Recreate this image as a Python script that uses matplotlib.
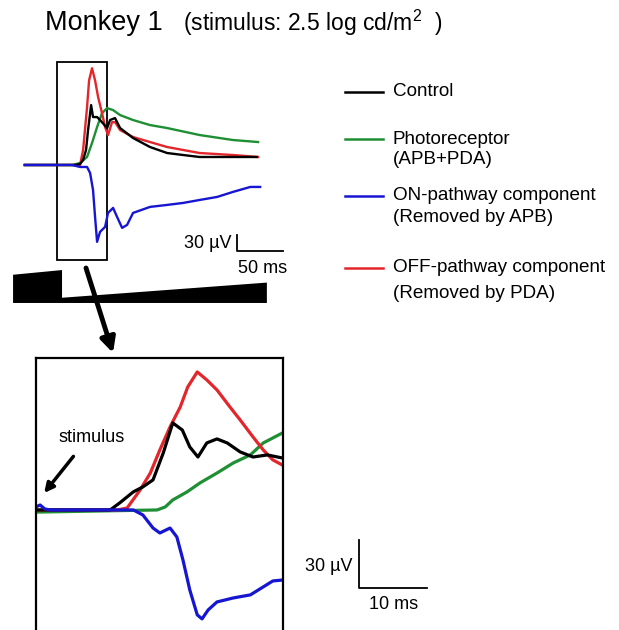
import matplotlib
matplotlib.use('Agg')
import matplotlib.pyplot as plt
from matplotlib.lines import Line2D
from matplotlib.patches import Rectangle

plt.rcParams['font.family'] = ['Liberation Sans', 'DejaVu Sans']
plt.rcParams['mathtext.fontset'] = 'custom'
plt.rcParams['mathtext.rm'] = 'Liberation Sans'
plt.rcParams['mathtext.it'] = 'Liberation Sans'

RED = '#e3262b'
GREEN = '#1f8f34'
BLUE = '#1616d2'
BLACK = 'black'

# ---- full recording (top), time in ms, voltage in uV ----
t_ctrl = [-35, 0, 19.6, 25, 28.3, 31.5, 33.7, 37.0, 39.1, 43.5, 46.7, 54.4, 57.6, 63.0, 68.5,
          82.6, 101, 119.6, 137, 155, 191, 217]
v_ctrl = [0, 0, 0, 1.9, 9.6, 28.7, 66.9, 114.6, 91.7, 91.7, 86, 70.7, 86, 89.8, 70.7,
          51.6, 34.4, 22.9, 19.1, 15.3, 15.3, 15.3]

t_off = [-35, 0, 25, 28.3, 32.6, 34.8, 38.0, 41.3, 44.6, 48.9, 52.2, 55.4, 59.8, 63.0, 68.5,
         82.6, 101, 119.6, 137, 155, 191, 218.5]
v_off = [0, 0, 0, 28.7, 110.8, 162, 185, 162, 130, 99, 72.6, 57.3, 82, 82, 66.9,
         53.5, 43.9, 34.4, 28.7, 22.9, 19.1, 15.3]

t_photo = [-35, 0, 16.3, 25, 32.6, 38.0, 43.5, 48.9, 54.4, 60.9, 68.5, 82.6, 101, 119.6,
           155, 191, 218.5]
v_photo = [0, 0, 0, 3.8, 15.3, 42, 72.6, 99.3, 108.9, 105, 95.5, 86, 76.4, 70.7,
           57.3, 47.8, 43.9]

t_on = [-35, 0, 16.3, 25, 32.6, 35.9, 39.1, 41.3, 43.5, 46.7, 52.2, 55.4, 60.9, 65.2, 70.7,
        76.1, 82.6, 101, 119.6, 137, 155, 174, 191, 210, 220.7]
v_on = [0, 0, 0, -3.8, -3.8, -15.3, -47.8, -99.3, -147, -128, -118.4, -91.7, -82.1, -99.3,
        -120.3, -114.6, -91.7, -80.2, -76.4, -72.6, -66.9, -61.1, -51.6, -42, -42]

# zoom window shown in the top panel
zoom_t = [0, 54.4]
zoom_v = [-181.5, 196.7]

# stimulus intensity trace under the top panel
stim_t = [-47.8, -47.8, 5.4, 5.4, 228, 228]
stim_v = [-264, -210, -201, -254, -225, -264]

# ---- zoomed segment (bottom), time in ms, voltage in uV ----
tb_ctrl = [0, 10.9, 12.3, 14.3, 15.7, 17.2, 18.7, 20.1, 21.5, 22.6, 23.8, 25.1, 26.6, 28.1,
           30.0, 31.9, 34.0, 36.2]
vb_ctrl = [0, 0, 4.4, 11.3, 14.4, 18.8, 35.6, 54.4, 50, 39.4, 33.1, 41.9, 44.4, 41.9,
           36.3, 33.1, 34.4, 32.5]

tb_off = [0, 12.0, 13.4, 15.3, 16.8, 18.2, 19.7, 21.2, 22.3, 23.7, 25.1, 26.6, 28.5, 30.0,
          31.9, 33.4, 34.8, 36.2]
vb_off = [0, 0, 1.25, 12.5, 23.1, 37.5, 51.9, 64.4, 76.9, 86.3, 81.3, 75, 64.4, 56.3,
          45.6, 37.5, 31.3, 28.1]

tb_photo = [0, 0.6, 17.8, 19.0, 20.1, 22.2, 24.1, 26.6, 29.0, 31.5, 33.4, 36.2]
vb_photo = [-1.3, -1.3, 0, 1.9, 6.25, 11.3, 16.9, 23.1, 29.4, 34.4, 41.9, 48.1]

tb_on = [0, 0.6, 1.3, 2.1, 14.3, 15.7, 17.2, 18.2, 19.7, 20.7, 21.6, 22.6, 23.7, 24.4,
         25.3, 26.6, 29.0, 31.5, 33.4, 34.8, 36.2]
vb_on = [1.9, 3.1, 0.6, 0, 0, -3.1, -11.3, -14.4, -11.3, -16.9, -31.3, -50, -65.6, -68.1,
         -62.5, -57.5, -55, -53.1, -48.1, -44.4, -43.8]

legend_labels = [['Control'],
                 ['Photoreceptor', '(APB+PDA)'],
                 ['ON-pathway component', '(Removed by APB)'],
                 ['OFF-pathway component', '(Removed by PDA)']]
legend_colors = [BLACK, GREEN, BLUE, RED]

W, H = 619, 630
fig = plt.figure(figsize=(W / 100, H / 100), dpi=100)

# top panel
ax1 = fig.add_axes([0, 1 - 315 / H, 300 / W, 265 / H])
ax1.set_xlim(-62, 264)
ax1.set_ylim(-287, 220)
ax1.axis('off')
ax1.plot(t_photo, v_photo, color=GREEN, lw=1.7)
ax1.plot(t_off, v_off, color=RED, lw=1.7)
ax1.plot(t_ctrl, v_ctrl, color=BLACK, lw=1.7)
ax1.plot(t_on, v_on, color=BLUE, lw=1.7)
ax1.add_patch(Rectangle((zoom_t[0], zoom_v[0]), zoom_t[1] - zoom_t[0], zoom_v[1] - zoom_v[0],
                        fill=False, ec='black', lw=1.3))
ax1.fill(stim_t, stim_v, color='black', lw=0)
# scale bar 30 uV / 50 ms
ax1.plot([195.7, 195.7, 245.7], [-134.3, -164.3, -164.3], color='black', lw=1.3)
ax1.text(190, -150, '30 µV', ha='right', va='center', fontsize=13)
ax1.text(223, -198, '50 ms', ha='center', va='center', fontsize=13)

# arrow to the zoomed panel
ax1.annotate('', xy=(113, H - 353), xycoords='figure pixels',
             xytext=(86, H - 268), textcoords='figure pixels',
             arrowprops=dict(arrowstyle='-|>', lw=3.5, color='black', mutation_scale=22,
                             shrinkA=0, shrinkB=0), annotation_clip=False)

# bottom panel
ax2 = fig.add_axes([36 / W, -10 / H, 247 / W, 282 / H])
ax2.set_xlim(0, 36.3)
ax2.set_ylim(-81.3, 95)
ax2.set_xticks([])
ax2.set_yticks([])
for s in ax2.spines.values():
    s.set_linewidth(1.6)
ax2.plot(tb_photo, vb_photo, color=GREEN, lw=2.3)
ax2.plot(tb_off, vb_off, color=RED, lw=2.3)
ax2.plot(tb_ctrl, vb_ctrl, color=BLACK, lw=2.3)
ax2.plot(tb_on, vb_on, color=BLUE, lw=2.3)
ax2.text(8.2, 45.6, 'stimulus', ha='center', va='center', fontsize=13)
ax2.annotate('', xy=(1.2, 10.6), xytext=(5.5, 33.5),
             arrowprops=dict(arrowstyle='-|>', lw=2.5, color='black', mutation_scale=14,
                             shrinkA=0, shrinkB=0))
# scale bar 30 uV / 10 ms
ax2.plot([47.5, 47.5, 57.5], [-18.75, -48.75, -48.75], color='black', lw=1.3, clip_on=False)
ax2.text(46.5, -35.6, '30 µV', ha='right', va='center', fontsize=13)
ax2.text(52.5, -59.4, '10 ms', ha='center', va='center', fontsize=13)

# legend
leg_y = [[92], [139, 160], [196, 218], [268, 293]]
for lines, ys, c in zip(legend_labels, leg_y, legend_colors):
    fig.add_artist(Line2D([345 / W, 383 / W], [1 - ys[0] / H] * 2, color=c, lw=1.8))
    for txt, y in zip(lines, ys):
        fig.text(393 / W, 1 - y / H, txt, ha='left', va='center', fontsize=13.6)

# title
fig.text(45 / W, 1 - 23 / H, 'Monkey 1', ha='left', va='center', fontsize=19.5)
fig.text(183 / W, 1 - 23 / H, '(stimulus: 2.5 log cd/m$^{2}$  )', ha='left', va='center',
         fontsize=16.5)

plt.savefig('out.png', dpi=100)
plt.close()
